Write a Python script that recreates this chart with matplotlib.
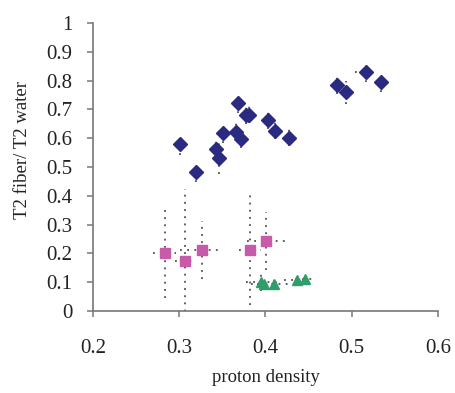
import matplotlib
matplotlib.use("Agg")
import matplotlib.pyplot as plt

# Blue diamonds
blue_x = [0.301, 0.319, 0.343, 0.346, 0.351, 0.366, 0.368, 0.372, 0.377, 0.381,
          0.403, 0.411, 0.427, 0.483, 0.493, 0.516, 0.534]
blue_y = [0.579, 0.484, 0.561, 0.531, 0.618, 0.623, 0.722, 0.597, 0.679, 0.682,
          0.662, 0.626, 0.602, 0.785, 0.760, 0.830, 0.796]
blue_yerr = [0.036, 0.035, 0.03, 0.055, 0.035, 0.03, 0.034, 0.03, 0.03, 0.03,
             0.03, 0.03, 0.03, 0.03, 0.04, 0.036, 0.035]
blue_xerr = [0.004, 0.004, 0.004, 0.004, 0.004, 0.004, 0.004, 0.004, 0.006, 0.006,
             0.006, 0.006, 0.004, 0.006, 0.006, 0.012, 0.006]

# Pink squares
pink_x = [0.283, 0.307, 0.326, 0.382, 0.401]
pink_y = [0.200, 0.174, 0.211, 0.211, 0.243]
pink_yerr = [0.155, 0.25, 0.10, 0.19, 0.10]
pink_xerr = [0.013, 0.012, 0.025, 0.013, 0.022]

# Green triangles
green_x = [0.395, 0.398, 0.410, 0.437, 0.446]
green_y = [0.100, 0.092, 0.093, 0.108, 0.111]
green_yerr = [0.03, 0.02, 0.015, 0.01, 0.01]
green_xerr = [0.018, 0.015, 0.02, 0.015, 0.012]

plt.rcParams['font.family'] = ['Liberation Serif', 'DejaVu Serif']

fig = plt.figure(figsize=(4.55, 3.93), dpi=100)
ax = fig.add_axes([0.2044, 0.2087, 0.9626 - 0.2044, 0.9415 - 0.2087])

def draw(x, y, xe, ye, marker, color, ms):
    eb = ax.errorbar(x, y, xerr=xe, yerr=ye, fmt='none', ecolor='#333333',
                     elinewidth=1.1, capsize=0, zorder=2)
    for lc in eb[2]:
        lc.set_linestyle((0, (1.2, 3.5)))
    ax.plot(x, y, linestyle='none', marker=marker, color=color, ms=ms,
            markeredgecolor=color, zorder=3, clip_on=False)

draw(blue_x, blue_y, blue_xerr, blue_yerr, 'D', '#2a2a80', 7)
draw(pink_x, pink_y, pink_xerr, pink_yerr, 's', '#c85aaa', 6.5)
draw(green_x, green_y, green_xerr, green_yerr, '^', '#2f9e6a', 6.5)

ax.set_xlim(0.2, 0.6)
ax.set_ylim(0, 1)
ax.set_xticks([0.2, 0.3, 0.4, 0.5, 0.6])
ax.set_xticklabels(['0.2', '0.3', '0.4', '0.5', '0.6'])
ax.set_yticks([i / 10 for i in range(11)])
ax.set_yticklabels(['0'] + ['0.%d' % i for i in range(1, 10)] + ['1'])

for s in ['top', 'right']:
    ax.spines[s].set_visible(False)
for s in ['left', 'bottom']:
    ax.spines[s].set_color('#777777')
    ax.spines[s].set_linewidth(1.2)
ax.tick_params(direction='out', length=4, width=1.1, color='#777777',
               labelsize=15, labelcolor='#222222')
ax.tick_params(axis='x', pad=16)
ax.tick_params(axis='y', pad=11)
ax.set_xlabel('proton density', fontsize=13.5, color='#222222')
ax.set_ylabel('T2 fiber/ T2 water', fontsize=13.5, color='#222222')
ax.xaxis.set_label_coords(0.5, -0.232)
ax.yaxis.set_label_coords(-0.205, 0.56)
ax.xaxis.label.set_va('center')
ax.yaxis.label.set_va('center')

fig.savefig('out.png', dpi=100)
